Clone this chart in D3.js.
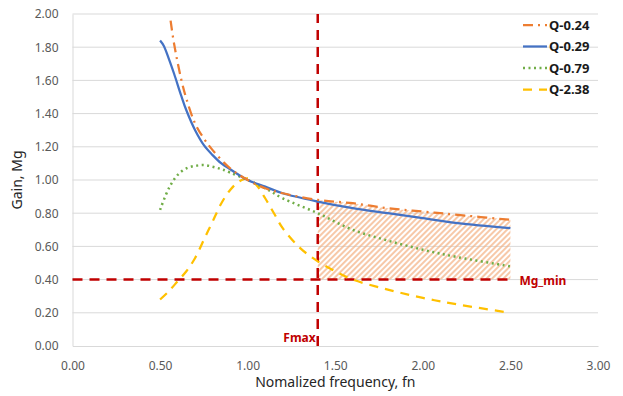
<!DOCTYPE html>
<html><head><meta charset="utf-8">
<script src="https://cdn.jsdelivr.net/npm/d3@7"></script>
<style>body{margin:0;background:#fff}svg{display:block}text{font-family:"Noto Sans","Open Sans",sans-serif}</style>
</head><body><svg id="c" width="623" height="396"></svg>
<script>
const xTicks = [0,0.5,1,1.5,2,2.5,3];
const yTicks = [0,0.2,0.4,0.6,0.8,1.0,1.2,1.4,1.6,1.8,2.0];
const seriesNames = ["Q-0.24","Q-0.29","Q-0.79","Q-2.38"];
const fnQ024 = [0.56,0.58,0.62,0.65,0.70,0.75,0.80,0.90,1.00,1.10,1.20,1.40,1.60,1.80,2.00,2.20,2.50];
const gainQ024 = [1.96,1.82,1.61,1.49,1.34,1.25,1.18,1.07,1.00,0.95,0.92,0.88,0.86,0.83,0.81,0.79,0.76];
const fnQ029 = [0.50,0.52,0.55,0.58,0.62,0.65,0.70,0.75,0.80,0.85,0.90,1.00,1.10,1.20,1.40,1.60,1.80,2.00,2.20,2.50];
const gainQ029 = [1.84,1.81,1.73,1.64,1.51,1.42,1.30,1.21,1.15,1.10,1.065,1.00,0.96,0.92,0.87,0.83,0.80,0.77,0.74,0.71];
const fnQ079 = [0.50,0.55,0.60,0.65,0.70,0.75,0.80,0.85,0.90,1.00,1.10,1.20,1.40,1.60,1.80,2.00,2.20,2.50];
const gainQ079 = [0.82,0.95,1.03,1.07,1.085,1.09,1.08,1.065,1.045,1.00,0.95,0.89,0.80,0.70,0.635,0.58,0.535,0.48];
const fnQ238 = [0.50,0.55,0.60,0.65,0.70,0.75,0.80,0.85,0.90,0.95,1.00,1.05,1.10,1.15,1.20,1.30,1.40,1.50,1.60,1.80,2.00,2.20,2.50];
const gainQ238 = [0.28,0.33,0.39,0.45,0.53,0.64,0.75,0.86,0.94,0.99,1.01,0.97,0.89,0.80,0.71,0.59,0.51,0.45,0.40,0.34,0.29,0.25,0.20];
const Fmax = 1.4;
const MgMin = 0.4;
const hatchEnd = 2.5;

const svg = d3.select("#c");
const L=72.5,R=598,T=14,B=346;
const x = d3.scaleLinear().domain([0,3]).range([L,R]);
const y = d3.scaleLinear().domain([0,2]).range([B,T]);

svg.append("g").selectAll("line").data(yTicks.filter(d=>d>0)).join("line")
  .attr("x1",L).attr("x2",R).attr("y1",d=>y(d)).attr("y2",d=>y(d))
  .attr("stroke","#d9d9d9").attr("stroke-width",1);

const xa = svg.append("g").attr("transform",`translate(0,${B})`)
  .call(d3.axisBottom(x).tickValues(xTicks).tickFormat(d3.format(".2f")).tickSize(0).tickPadding(15));
const ya = svg.append("g").attr("transform",`translate(${L},0)`)
  .call(d3.axisLeft(y).tickValues(yTicks).tickFormat(d3.format(".2f")).tickSize(0).tickPadding(14));
[xa,ya].forEach(a=>{a.select(".domain").attr("stroke","#d9d9d9");
  a.selectAll("text").attr("fill","#595959").style("font-size","12px");});

svg.append("text").attr("x",(L+R)/2).attr("y",387).attr("text-anchor","middle")
  .attr("fill","#262626").style("font-size","14px").text("Nomalized frequency, fn");
svg.append("text").attr("transform",`translate(22,${(T+B)/2}) rotate(-90)`).attr("text-anchor","middle")
  .attr("fill","#262626").style("font-size","14px").text("Gain, Mg");

const defs = svg.append("defs");
const pat = defs.append("pattern").attr("id","hatch").attr("patternUnits","userSpaceOnUse")
  .attr("width",4).attr("height",4).attr("patternTransform","rotate(45)");
pat.append("line").attr("x1",1).attr("y1",0).attr("x2",1).attr("y2",4)
  .attr("stroke","#F4B183").attr("stroke-width",1.4);

const curve = d3.curveCatmullRom.alpha(0.5);
const zip = (a,b)=>a.map((v,i)=>[v,b[i]]);
const areaData = zip(fnQ024,gainQ024).filter(d=>d[0]>=Fmax && d[0]<=hatchEnd);
svg.append("path").datum(areaData)
  .attr("d",d3.area().x(d=>x(d[0])).y0(y(MgMin)).y1(d=>y(d[1])).curve(curve))
  .attr("fill","url(#hatch)");

const line = d3.line().x(d=>x(d[0])).y(d=>y(d[1])).curve(curve);
const styles = [
  {name:seriesNames[0],data:zip(fnQ024,gainQ024),color:"#ED7D31",dash:"10,5,2,5",w:2.25},
  {name:seriesNames[1],data:zip(fnQ029,gainQ029),color:"#4472C4",dash:null,w:2.25},
  {name:seriesNames[2],data:zip(fnQ079,gainQ079),color:"#70AD47",dash:"2,3.5",w:2.5},
  {name:seriesNames[3],data:zip(fnQ238,gainQ238),color:"#FFC000",dash:"9,7",w:2.25}
];
svg.append("line").attr("x1",x(0)).attr("x2",x(hatchEnd)).attr("y1",y(MgMin)).attr("y2",y(MgMin))
  .attr("stroke","#C00000").attr("stroke-width",2.5).attr("stroke-dasharray","10,7");
svg.append("line").attr("x1",x(Fmax)).attr("x2",x(Fmax)).attr("y1",y(0)).attr("y2",y(2))
  .attr("stroke","#C00000").attr("stroke-width",2.5).attr("stroke-dasharray","10,7");

[3,2,1,0].forEach(i=>{const s=styles[i];
  svg.append("path").datum(s.data).attr("d",line).attr("fill","none")
   .attr("stroke",s.color).attr("stroke-width",s.w).attr("stroke-dasharray",s.dash);});

svg.append("text").attr("x",x(hatchEnd)+9).attr("y",y(MgMin)+5).attr("fill","#C00000")
  .style("font-size","12px").style("font-weight","bold").text("Mg_min");
svg.append("text").attr("x",x(Fmax)-2).attr("y",y(0)-4).attr("text-anchor","end").attr("fill","#C00000")
  .style("font-size","12px").style("font-weight","bold").text("Fmax");

const lg = svg.append("g");
styles.forEach((s,i)=>{const yy=25+i*21.5;
  lg.append("line").attr("x1",523).attr("x2",547).attr("y1",yy).attr("y2",yy)
    .attr("stroke",s.color).attr("stroke-width",s.w).attr("stroke-dasharray",s.dash);
  lg.append("text").attr("x",549).attr("y",yy+4.5).attr("fill","#1a1a1a")
    .style("font-size","13px").style("font-weight","bold").text(s.name);
});
</script></body></html>
